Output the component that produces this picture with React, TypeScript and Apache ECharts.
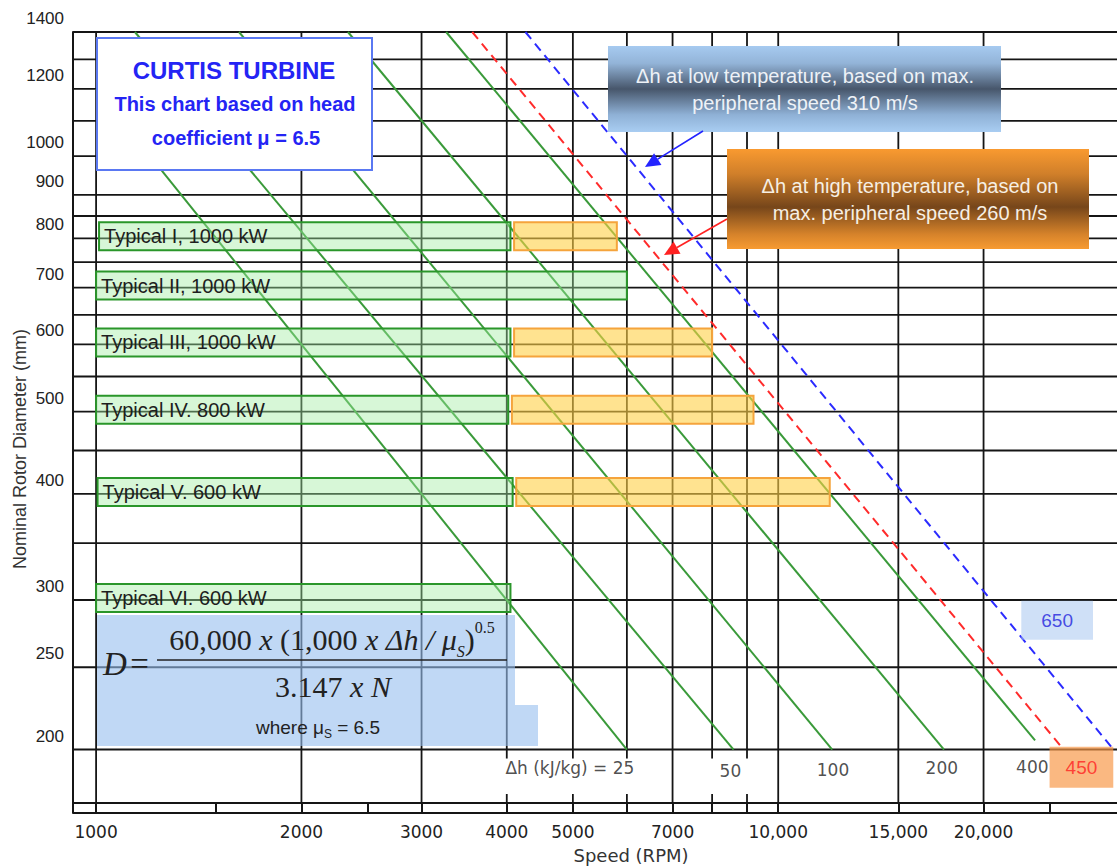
import React, { useEffect, useRef } from 'react';
import * as echarts from 'echarts';

// Axis ranges: speed (RPM) and nominal rotor diameter (mm), both logarithmic
const speedMin = 925;
const speedMax = 31700;
const diameterMin = 173;
const diameterMax = 1400;

const speedLabels = [1000, 2000, 3000, 4000, 5000, 7000, 10000, 15000, 20000];
const speedStripTicks = [925, 1000, 1500, 2000, 2500, 3000, 4000, 5000, 6000, 7000, 8000, 9000, 10000, 15000, 20000, 25000];
const speedFullGrid = [1000, 2000, 3000, 7000, 10000, 15000, 20000];
const speedUpperGrid = [4000, 5000, 6000, 8000, 9000];
const diameterLabels = [200, 250, 300, 400, 500, 600, 700, 800, 900, 1000, 1200, 1400];
const diameterGrid = [200, 250, 300, 350, 400, 450, 500, 550, 600, 650, 700, 750, 800, 850, 900, 1000, 1100, 1200, 1300, 1400];

// Constant enthalpy-drop lines (kJ/kg): upper and lower end points
const enthalpyDrops = [25, 50, 100, 200, 400, 450, 650];
const dhTopSpeed = [1000, 1140, 1620, 2340, 3260, 3560, 4260];
const dhTopDiameter = [1200, 1400, 1400, 1400, 1400, 1400, 1400];
const dhEndSpeed = [6000, 8600, 12000, 17500, 23800, 26200, 31000];
const dhEndDiameter = [200, 200, 200, 200, 205, 200, 200];
const dhLabelText = ['\u0394h (kJ/kg) = 25', '50', '100', '200', '400', '450', '650'];
const dhLabelSpeed = [4950, 8510, 12030, 17370, 23580, 27830, 25640];
const dhLabelDiameter = [190.2, 188.5, 189.3, 190.2, 190.6, 190.6, 284];

// Typical units: diameter and speed range (low / high temperature part)
const unitNames = [
  'Typical I, 1000 kW',
  'Typical II, 1000 kW',
  'Typical III, 1000 kW',
  'Typical IV. 800 kW',
  'Typical V. 600 kW',
  'Typical VI. 600 kW',
];
const unitDiameter = [800, 700, 600, 500, 400, 300];
const lowTempFrom = [1010, 1000, 1000, 1000, 1005, 1000];
const lowTempTo = [4050, 6000, 4050, 4020, 4080, 4050];
const highTempFrom = [4100, null, 4100, 4070, 4130, null];
const highTempTo = [5800, null, 8000, 9200, 11900, null];

const GRID_COLOR = '#151515';
const GREEN = '#3a9a3a';

function lineColor(i: number) {
  if (enthalpyDrops[i] === 450) return '#ff2b2b';
  if (enthalpyDrops[i] === 650) return '#2b2bff';
  return GREEN;
}

function arrow(x1: number, y1: number, x2: number, y2: number, color: string) {
  const ang = Math.atan2(y2 - y1, x2 - x1);
  const len = 15;
  const half = 7;
  const bx = x2 - len * Math.cos(ang);
  const by = y2 - len * Math.sin(ang);
  const px = -Math.sin(ang) * half;
  const py = Math.cos(ang) * half;
  return [
    { type: 'line', z: 22, shape: { x1, y1, x2: bx, y2: by }, style: { stroke: color, lineWidth: 1.6 } },
    {
      type: 'polygon',
      z: 22,
      shape: { points: [[x2, y2], [bx + px, by + py], [bx - px, by - py]] },
      style: { fill: color },
    },
  ];
}

function buildOption() {
  const gridV = [
    ...speedFullGrid.map((n) => [n, diameterMin, diameterMax]),
    ...speedUpperGrid.map((n) => [n, 200, diameterMax]),
  ];
  const gridH = diameterGrid.map((d) => [speedMin, speedMax, d]);

  const barRows: any[] = [];
  unitNames.forEach((_, i) => {
    barRows.push([lowTempFrom[i], lowTempTo[i], unitDiameter[i], 0, i]);
    if (highTempFrom[i] != null && highTempTo[i] != null) {
      barRows.push([highTempFrom[i], highTempTo[i], unitDiameter[i], 1, i]);
    }
  });

  const gridStyle = { stroke: GRID_COLOR, lineWidth: 1.8 };

  const dhSeries = enthalpyDrops.map((dh, i) => ({
    type: 'line',
    name: String(dh),
    z: 2,
    silent: true,
    showSymbol: false,
    data: [
      [dhTopSpeed[i], dhTopDiameter[i]],
      [dhEndSpeed[i], dhEndDiameter[i]],
    ],
    lineStyle: {
      color: lineColor(i),
      width: 2,
      type: dh === 450 || dh === 650 ? [9, 6] : 'solid',
    },
  }));

  const labelData = dhLabelText.map((t, i) => {
    const base: any = {
      value: [dhLabelSpeed[i], dhLabelDiameter[i]],
      label: {
        show: true,
        position: 'inside',
        formatter: t,
        color: '#222',
        fontSize: 17,
        fontFamily: 'DejaVu Sans',
      },
    };
    if (enthalpyDrops[i] === 450) {
      base.label = {
        ...base.label,
        color: '#ff2020',
        fontSize: 19,
        fontFamily: 'Liberation Sans',
        backgroundColor: 'rgba(247,150,70,0.85)',
        padding: [11, 16],
      };
    }
    if (enthalpyDrops[i] === 650) {
      base.label = {
        ...base.label,
        color: '#2222dd',
        fontSize: 19,
        fontFamily: 'Liberation Sans',
        backgroundColor: 'rgba(170,200,240,0.7)',
        padding: [10, 20],
      };
    }
    return base;
  });

  const serif = '"Liberation Serif", "DejaVu Serif", serif';

  const graphic: any[] = [
    // title box
    {
      type: 'rect',
      z: 20,
      shape: { x: 97, y: 38, width: 275, height: 132 },
      style: { fill: '#ffffff', stroke: '#5a78f2', lineWidth: 2 },
    },
    {
      type: 'text',
      z: 21,
      x: 234,
      y: 70,
      style: { text: 'CURTIS TURBINE', fill: '#2424f4', font: 'bold 24px "Liberation Sans"', align: 'center', verticalAlign: 'middle' },
    },
    {
      type: 'text',
      z: 21,
      x: 235,
      y: 104,
      style: { text: 'This chart based on head', fill: '#2424f4', font: 'bold 20px "Liberation Sans"', align: 'center', verticalAlign: 'middle' },
    },
    {
      type: 'text',
      z: 21,
      x: 236,
      y: 138,
      style: { text: 'coefficient \u03bc = 6.5', fill: '#2424f4', font: 'bold 20px "Liberation Sans"', align: 'center', verticalAlign: 'middle' },
    },
    // axis titles
    {
      type: 'text',
      x: 20,
      y: 449,
      rotation: Math.PI / 2,
      style: { text: 'Nominal Rotor Diameter (mm)', fill: '#333', font: '18px "Liberation Sans"', align: 'center', verticalAlign: 'middle' },
    },
    {
      type: 'text',
      x: 631,
      y: 855,
      style: { text: 'Speed (RPM)', fill: '#333', font: '18px "DejaVu Sans"', align: 'center', verticalAlign: 'middle' },
    },
    // formula box
    {
      type: 'rect',
      z: 4,
      shape: { x: 97, y: 615, width: 418, height: 90 },
      style: { fill: 'rgba(150,190,238,0.6)' },
    },
    {
      type: 'rect',
      z: 4,
      shape: { x: 97, y: 705, width: 441, height: 41 },
      style: { fill: 'rgba(150,190,238,0.6)' },
    },
    {
      type: 'text',
      z: 5,
      x: 103,
      y: 664,
      style: {
        text: '{i|D} {n|=}',
        verticalAlign: 'middle',
        align: 'left',
        rich: {
          i: { fontFamily: serif, fontStyle: 'italic', fontSize: 33, fill: '#222' },
          n: { fontFamily: serif, fontSize: 33, fill: '#222' },
        },
      },
    },
    {
      type: 'line',
      z: 5,
      shape: { x1: 157, y1: 660, x2: 507, y2: 660 },
      style: { stroke: '#222', lineWidth: 1.6 },
    },
    {
      type: 'text',
      z: 5,
      x: 332,
      y: 639,
      style: {
        text: '{n|60,000 }{i|x}{n| (1,000 }{i|x \u0394h / \u03bc}{sub|S}{n|)}{sup|0.5}',
        align: 'center',
        verticalAlign: 'middle',
        rich: {
          n: { fontFamily: serif, fontSize: 30, lineHeight: 40, fill: '#222' },
          i: { fontFamily: serif, fontSize: 30, fontStyle: 'italic', lineHeight: 40, fill: '#222' },
          sub: { fontFamily: serif, fontSize: 16, fontStyle: 'italic', lineHeight: 40, verticalAlign: 'bottom', fill: '#222' },
          sup: { fontFamily: serif, fontSize: 16, lineHeight: 40, verticalAlign: 'top', fill: '#222' },
        },
      },
    },
    {
      type: 'text',
      z: 5,
      x: 333,
      y: 686,
      style: {
        text: '{n|3.147 }{i|x N}',
        align: 'center',
        verticalAlign: 'middle',
        rich: {
          n: { fontFamily: serif, fontSize: 30, fill: '#222' },
          i: { fontFamily: serif, fontSize: 30, fontStyle: 'italic', fill: '#222' },
        },
      },
    },
    {
      type: 'text',
      z: 5,
      x: 318,
      y: 727,
      style: {
        text: '{n|where \u03bc}{s|S}{n| = 6.5}',
        align: 'center',
        verticalAlign: 'middle',
        rich: {
          n: { fontFamily: 'Liberation Sans', fontSize: 19, lineHeight: 26, fill: '#222' },
          s: { fontFamily: 'Liberation Sans', fontSize: 12, lineHeight: 26, verticalAlign: 'bottom', fill: '#222' },
        },
      },
    },
    // low temperature callout
    {
      type: 'rect',
      z: 20,
      shape: { x: 608, y: 46, width: 393, height: 86 },
      style: {
        fill: new echarts.graphic.LinearGradient(0, 0, 0, 1, [
          { offset: 0, color: '#a6caf0' },
          { offset: 0.2, color: '#93b4d8' },
          { offset: 0.5, color: '#47566b' },
          { offset: 0.8, color: '#8fb1d6' },
          { offset: 1, color: '#a9cdf2' },
        ]),
      },
    },
    {
      type: 'text',
      z: 21,
      x: 805,
      y: 76,
      style: { text: '\u0394h at low temperature, based on max.', fill: '#eef2f7', font: '20px "Liberation Sans"', align: 'center', verticalAlign: 'middle' },
    },
    {
      type: 'text',
      z: 21,
      x: 805,
      y: 103,
      style: { text: 'peripheral speed 310 m/s', fill: '#eef2f7', font: '20px "Liberation Sans"', align: 'center', verticalAlign: 'middle' },
    },
    // high temperature callout
    {
      type: 'rect',
      z: 20,
      shape: { x: 727, y: 149, width: 362, height: 100 },
      style: {
        fill: new echarts.graphic.LinearGradient(0, 0, 0, 1, [
          { offset: 0, color: '#f99a30' },
          { offset: 0.25, color: '#d07f2a' },
          { offset: 0.58, color: '#76461a' },
          { offset: 0.85, color: '#d5822a' },
          { offset: 1, color: '#f79b32' },
        ]),
      },
    },
    {
      type: 'text',
      z: 21,
      x: 910,
      y: 186,
      style: { text: '\u0394h at high temperature, based on', fill: '#f6efe4', font: '20px "Liberation Sans"', align: 'center', verticalAlign: 'middle' },
    },
    {
      type: 'text',
      z: 21,
      x: 910,
      y: 213,
      style: { text: 'max. peripheral speed 260 m/s', fill: '#f6efe4', font: '20px "Liberation Sans"', align: 'center', verticalAlign: 'middle' },
    },
    ...arrow(703, 131, 645, 167, '#2323ff'),
    ...arrow(727, 219, 664, 255, '#ff2222'),
  ];

  return {
    animation: false,
    backgroundColor: '#ffffff',
    grid: { left: 73, top: 32, right: -3, bottom: 64, containLabel: false, outerBoundsMode: 'none' },
    xAxis: [
      {
        type: 'log',
        logBase: 10,
        min: speedMin,
        max: speedMax,
        position: 'bottom',
        axisLine: { show: true, onZero: false, lineStyle: { color: GRID_COLOR, width: 2 } },
        axisTick: { show: true, customValues: speedStripTicks, length: 10, inside: false, lineStyle: { color: GRID_COLOR, width: 2 } },
        axisLabel: {
          show: true,
          customValues: speedLabels,
          margin: 20,
          color: '#222',
          fontSize: 17,
          fontFamily: 'DejaVu Sans',
          formatter: (v: number) => {
            const r = Math.round(v);
            return r >= 10000 ? r.toLocaleString('en-US') : String(r);
          },
        },
        splitLine: { show: false },
        minorTick: { show: false },
        minorSplitLine: { show: false },
      },
      {
        type: 'log',
        logBase: 10,
        min: speedMin,
        max: speedMax,
        position: 'bottom',
        offset: 10,
        axisLine: { show: true, onZero: false, lineStyle: { color: GRID_COLOR, width: 2 } },
        axisTick: { show: false },
        axisLabel: { show: false },
        splitLine: { show: false },
      },
    ],
    yAxis: {
      type: 'log',
      logBase: 10,
      min: diameterMin,
      max: diameterMax,
      axisLine: { show: true, onZero: false, lineStyle: { color: GRID_COLOR, width: 2 } },
      axisTick: { show: false },
      axisLabel: {
        show: true,
        customValues: diameterLabels,
        margin: 9,
        color: '#222',
        fontSize: 17,
        fontFamily: 'Liberation Sans',
        verticalAlign: 'bottom',
        padding: [0, 0, 5, 0],
        formatter: (v: number) => String(Math.round(v)),
      },
      splitLine: { show: false },
      minorTick: { show: false },
      minorSplitLine: { show: false },
    },
    graphic,
    series: [
      {
        type: 'custom',
        name: 'speed grid',
        z: 1,
        silent: true,
        encode: { x: 0, y: [1, 2] },
        data: gridV,
        renderItem: (params: any, api: any) => {
          const n = api.value(0);
          const d0 = api.value(1);
          const d1 = api.value(2);
          const a = api.coord([n, d0]);
          const b = api.coord([n, d1]);
          const children: any[] = [
            { type: 'line', shape: { x1: a[0], y1: a[1], x2: b[0], y2: b[1] }, style: gridStyle },
          ];
          if (d0 > diameterMin) {
            const base = api.coord([n, diameterMin]);
            children.push({ type: 'line', shape: { x1: a[0], y1: a[1], x2: a[0], y2: a[1] + 9 }, style: gridStyle });
            children.push({ type: 'line', shape: { x1: a[0], y1: base[1], x2: a[0], y2: base[1] - 9 }, style: gridStyle });
          }
          return { type: 'group', children };
        },
      },
      {
        type: 'custom',
        name: 'diameter grid',
        z: 1,
        silent: true,
        encode: { x: [0, 1], y: 2 },
        data: gridH,
        renderItem: (params: any, api: any) => {
          const a = api.coord([api.value(0), api.value(2)]);
          const b = api.coord([api.value(1), api.value(2)]);
          return { type: 'line', shape: { x1: a[0], y1: a[1], x2: b[0] + 10, y2: b[1] }, style: gridStyle };
        },
      },
      ...dhSeries,
      {
        type: 'custom',
        name: 'typical units',
        z: 3,
        silent: true,
        encode: { x: [0, 1], y: 2 },
        data: barRows,
        renderItem: (params: any, api: any) => {
          const from = api.value(0);
          const to = api.value(1);
          const d = api.value(2);
          const kind = api.value(3);
          const idx = api.value(4);
          const a = api.coord([from, d]);
          const b = api.coord([to, d]);
          const h = 28;
          const rect = {
            type: 'rect',
            shape: { x: a[0], y: a[1] - h / 2 - 2, width: b[0] - a[0], height: h },
            style:
              kind === 0
                ? { fill: 'rgba(160,236,160,0.42)', stroke: '#2a962a', lineWidth: 2 }
                : { fill: 'rgba(255,208,70,0.6)', stroke: '#f5a43c', lineWidth: 2 },
          };
          if (kind !== 0) return rect;
          return {
            type: 'group',
            children: [
              rect,
              {
                type: 'text',
                x: a[0] + 5,
                y: a[1] - 2,
                style: {
                  text: unitNames[idx],
                  fill: '#1e1e1e',
                  font: '20px "Liberation Sans"',
                  verticalAlign: 'middle',
                  align: 'left',
                },
              },
            ],
          };
        },
      },
      {
        type: 'scatter',
        name: 'dh labels',
        z: 6,
        silent: true,
        symbolSize: 0,
        data: labelData,
      },
    ],
  };
}

export default function App() {
  const ref = useRef<HTMLDivElement>(null);
  useEffect(() => {
    if (!ref.current) return;
    const chart = echarts.init(ref.current, null, { renderer: 'svg' });
    chart.setOption(buildOption() as any);
    return () => chart.dispose();
  }, []);
  return (
    <div
      ref={ref}
      style={{ position: 'fixed', left: 0, top: 0, width: 1117, height: 867, background: '#ffffff' }}
    />
  );
}
